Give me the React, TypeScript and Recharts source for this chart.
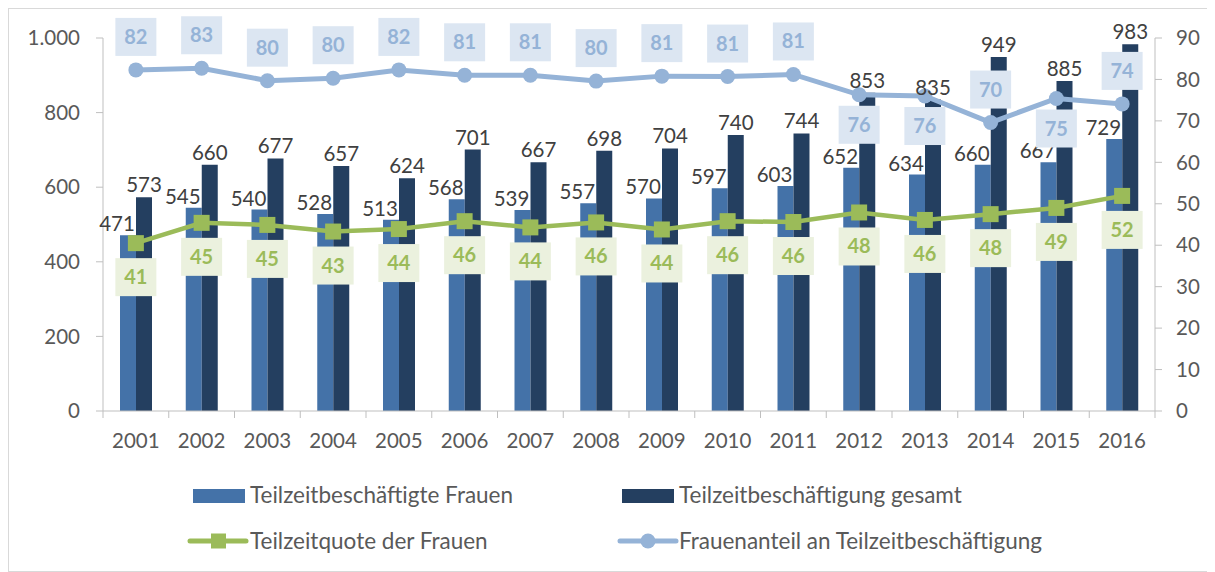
import React from 'react';
import { ComposedChart, Bar, Line, XAxis, YAxis, LabelList } from 'recharts';

const years = ['2001', '2002', '2003', '2004', '2005', '2006', '2007', '2008', '2009', '2010', '2011', '2012', '2013', '2014', '2015', '2016'];
const womenPartTime = [471, 545, 540, 528, 513, 568, 539, 557, 570, 597, 603, 652, 634, 660, 667, 729];
const totalPartTime = [573, 660, 677, 657, 624, 701, 667, 698, 704, 740, 744, 853, 835, 949, 885, 983];
const womenRate = [40.5, 45.4, 44.9, 43.3, 43.9, 45.8, 44.3, 45.5, 43.8, 45.8, 45.6, 47.9, 46.1, 47.5, 49.0, 51.9];
const womenShare = [82.3, 82.7, 79.7, 80.3, 82.3, 81.0, 81.0, 79.6, 80.8, 80.7, 81.2, 76.3, 76.0, 69.6, 75.4, 74.1];
const leftTicks = [0, 200, 400, 600, 800, 1000];
const rightTicks = [0, 10, 20, 30, 40, 50, 60, 70, 80, 90];
// years where the share label sits under the point
const shareLabelsBelow = ['2012', '2013', '2015'];

const data = years.map((year, i) => ({
    year,
    women: womenPartTime[i],
    total: totalPartTime[i],
    rate: womenRate[i],
    share: womenShare[i],
}));

const FONT = 'Lato, "Open Sans", sans-serif';
const W = 1205;
const H = 562;
const MARGIN = { top: 29, right: 10, bottom: 120, left: 10 };
const LEFT_AXIS_W = 84;
const RIGHT_AXIS_W = 49;
const PLOT_LEFT = MARGIN.left + LEFT_AXIS_W;
const PLOT_RIGHT = W - MARGIN.right - RIGHT_AXIS_W;
const PLOT_BOTTOM = H - MARGIN.bottom - 40;
const BAND = (PLOT_RIGHT - PLOT_LEFT) / years.length;
const AXIS_GREY = '#bfbfbf';

const fmtThousands = (v: number) => String(v).replace(/\B(?=(\d{3})+(?!\d))/g, '.');

const YearTick = (props: any) => {
    const { x, payload, index } = props;
    const last = index === years.length - 1;
    return (
        <g>
            <line x1={x - BAND / 2} x2={x - BAND / 2} y1={PLOT_BOTTOM} y2={PLOT_BOTTOM + 7} stroke={AXIS_GREY} />
            {last && (
                <line x1={x + BAND / 2} x2={x + BAND / 2} y1={PLOT_BOTTOM} y2={PLOT_BOTTOM + 7} stroke={AXIS_GREY} />
            )}
            <text x={x} y={PLOT_BOTTOM + 37} textAnchor="middle" fill="#595959" fontSize={20.5} fontFamily={FONT}>
                {payload.value}
            </text>
        </g>
    );
};

const barLabel = (dx: number, gap: number) => (p: any) => {
    const x = p.x ?? p.viewBox?.x;
    const y = p.y ?? p.viewBox?.y;
    const w = p.width ?? p.viewBox?.width ?? 0;
    return (
        <text x={x + w / 2 + dx} y={y - gap} textAnchor="middle" fill="#404040" fontSize={20.5} fontFamily={FONT}>
            {p.value}
        </text>
    );
};

const boxLabel = (boxFill: string, textFill: string, isBelow: (i: number) => boolean, up: number, down: number) => (p: any) => {
    const x = p.x ?? p.viewBox?.x;
    const y = p.y ?? p.viewBox?.y;
    const below = isBelow(p.index);
    const cy = below ? y + down : y - up;
    return (
        <g>
            <rect x={x - 20.5} y={cy - 19} width={41} height={38} fill={boxFill} />
            <text x={x} y={cy + 7} textAnchor="middle" fill={textFill} fontSize={20} fontWeight="bold" fontFamily={FONT}>
                {Math.round(p.value)}
            </text>
        </g>
    );
};

const SquareDot = (props: any) => {
    const { cx, cy } = props;
    return <rect x={cx - 8} y={cy - 8} width={16} height={16} fill="#9bbb59" />;
};

const legendText: React.CSSProperties = {
    position: 'absolute',
    fontFamily: FONT,
    fontSize: 22.5,
    color: '#595959',
    lineHeight: '26px',
    whiteSpace: 'nowrap',
};

const LegendBlock = () => (
    <>
        <div style={{ position: 'absolute', left: 184, top: 480, width: 52, height: 14, background: '#4472a8' }} />
        <div style={{ ...legendText, left: 241, top: 473 }}>Teilzeitbeschäftigte Frauen</div>
        <div style={{ position: 'absolute', left: 613, top: 480, width: 52, height: 14, background: '#243f60' }} />
        <div style={{ ...legendText, left: 670, top: 473 }}>Teilzeitbeschäftigung gesamt</div>

        <svg style={{ position: 'absolute', left: 178, top: 520 }} width={62} height={24}>
            <line x1={3} x2={59} y1={12} y2={12} stroke="#9bbb59" strokeWidth={5} strokeLinecap="round" />
            <rect x={24} y={4.5} width={15} height={15} fill="#9bbb59" />
        </svg>
        <div style={{ ...legendText, left: 241, top: 519 }}>Teilzeitquote der Frauen</div>
        <svg style={{ position: 'absolute', left: 608, top: 520 }} width={62} height={24}>
            <line x1={3} x2={59} y1={12} y2={12} stroke="#95b3d7" strokeWidth={5} strokeLinecap="round" />
            <circle cx={31} cy={12} r={7.5} fill="#95b3d7" />
        </svg>
        <div style={{ ...legendText, left: 670, top: 519 }}>Frauenanteil an Teilzeitbeschäftigung</div>
    </>
);

export default function App() {
    return (
        <div style={{ position: 'relative', width: W, height: H, border: '1px solid #d9d9d9', background: '#fff' }}>
            <style>{'body{overflow:hidden}'}</style>
            <ComposedChart width={W} height={H} data={data} margin={MARGIN} barGap={0} barSize={16}>
                <XAxis
                    dataKey="year"
                    height={40}
                    stroke={AXIS_GREY}
                    tickLine={false}
                    tick={<YearTick />}
                    interval={0}
                />
                <YAxis
                    yAxisId="left"
                    width={LEFT_AXIS_W}
                    domain={[0, 1000]}
                    ticks={leftTicks}
                    tickFormatter={fmtThousands}
                    stroke={AXIS_GREY}
                    tickSize={7}
                    tickMargin={16}
                    tick={{ fill: '#595959', fontSize: 20.5, fontFamily: FONT }}
                    interval={0}
                />
                <YAxis
                    yAxisId="right"
                    orientation="right"
                    width={RIGHT_AXIS_W}
                    domain={[0, 90]}
                    ticks={rightTicks}
                    stroke={AXIS_GREY}
                    tickSize={7}
                    tickMargin={14}
                    tick={{ fill: '#595959', fontSize: 20.5, fontFamily: FONT, textAnchor: 'start' }}
                    interval={0}
                />
                <Bar yAxisId="left" dataKey="women" name="Teilzeitbeschäftigte Frauen" fill="#4472a8" isAnimationActive={false}>
                    <LabelList dataKey="women" content={barLabel(-11, 4)} />
                </Bar>
                <Bar yAxisId="left" dataKey="total" name="Teilzeitbeschäftigung gesamt" fill="#243f60" isAnimationActive={false}>
                    <LabelList dataKey="total" content={barLabel(0, 5)} />
                </Bar>
                <Line
                    yAxisId="right"
                    dataKey="rate"
                    name="Teilzeitquote der Frauen"
                    stroke="#9bbb59"
                    strokeWidth={4.5}
                    dot={<SquareDot />}
                    activeDot={false}
                    isAnimationActive={false}
                >
                    <LabelList dataKey="rate" content={boxLabel('#ebf1de', '#9bbb59', () => true, 34, 34)} />
                </Line>
                <Line
                    yAxisId="right"
                    dataKey="share"
                    name="Frauenanteil an Teilzeitbeschäftigung"
                    stroke="#95b3d7"
                    strokeWidth={5}
                    dot={{ r: 7.5, fill: '#95b3d7', stroke: 'none' }}
                    activeDot={false}
                    isAnimationActive={false}
                >
                    <LabelList
                        dataKey="share"
                        content={boxLabel('#dce6f2', '#95b3d7', (i) => shareLabelsBelow.includes(years[i]), 33, 30)}
                    />
                </Line>
            </ComposedChart>
            <LegendBlock />
        </div>
    );
}
